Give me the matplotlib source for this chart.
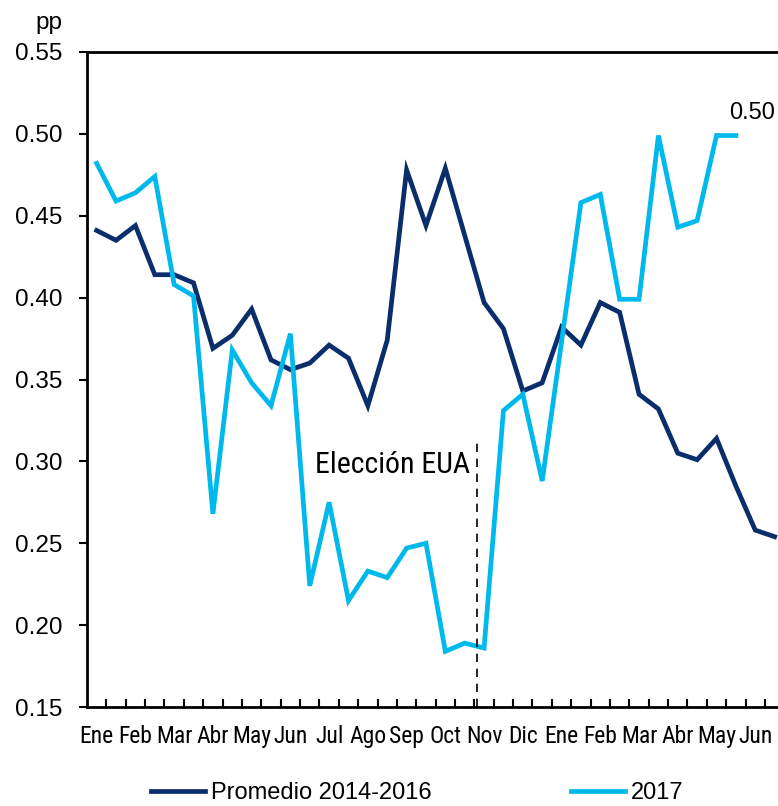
import matplotlib
matplotlib.use("Agg")
import matplotlib.pyplot as plt
import numpy as np

plt.rcParams["font.family"] = ["Liberation Sans", "DejaVu Sans"]
narrow = ["Roboto Condensed", "Liberation Sans"]

# two points per month, Ene 2016 .. Jun 2017 (36 obs)
months = ["Ene", "Feb", "Mar", "Abr", "May", "Jun", "Jul", "Ago", "Sep",
          "Oct", "Nov", "Dic", "Ene", "Feb", "Mar", "Abr", "May", "Jun"]

promedio = [0.441, 0.435, 0.444, 0.414, 0.414, 0.409, 0.369, 0.377, 0.393,
            0.362, 0.356, 0.360, 0.371, 0.363, 0.334, 0.374, 0.478, 0.444,
            0.479, 0.438, 0.397, 0.381, 0.343, 0.348, 0.382, 0.371, 0.397,
            0.391, 0.341, 0.332, 0.305, 0.301, 0.314, 0.285, 0.258, 0.254]

y2017 = [0.482, 0.459, 0.464, 0.474, 0.408, 0.401, 0.268, 0.368, 0.348,
         0.334, 0.378, 0.224, 0.275, 0.215, 0.233, 0.229, 0.247, 0.250,
         0.184, 0.189, 0.186, 0.331, 0.341, 0.288, 0.373, 0.458, 0.463,
         0.399, 0.399, 0.499, 0.443, 0.447, 0.499, 0.499]

dark = "#0a2d6c"
light = "#00b9ec"
W, H = 778, 806

fig = plt.figure(figsize=(W / 100, H / 100), dpi=100)
# right edge of the axes runs past the figure (chart is cropped in the original)
ax = fig.add_axes([87 / W, 1 - 707 / H, 697.3 / W, 655 / H])

x1 = np.arange(len(promedio))
x2 = np.arange(len(y2017))
ax.plot(x1, promedio, color=dark, lw=3.4, solid_joinstyle="miter",
        label="Promedio 2014-2016")
ax.plot(x2, y2017, color=light, lw=3.4, solid_joinstyle="miter", label="2017")

# election marker
ax.plot([19.62, 19.62], [0.15, 0.312], color="black", lw=1.2,
        linestyle=(0, (5, 4)))
ax.text(19.3, 0.2975, "Elección EUA", ha="right", va="center",
        fontsize=21.5, family=narrow)
ax.text(32.64, 0.513, "0.50", ha="left", va="center", fontsize=17)

ax.set_xlim(-0.5, 35.5)
ax.set_ylim(0.15, 0.55)
yt = np.arange(0.15, 0.551, 0.05)
ax.set_yticks(yt)
ax.set_yticklabels([f"{v:.2f}" for v in yt], fontsize=17.5)
ax.tick_params(axis="y", direction="out", length=6, width=1.5, pad=12)

ax.set_xticks(np.arange(0.5, 35, 1))
ax.set_xticklabels([])
ax.tick_params(axis="x", which="major", direction="in", length=6, width=1.5)
ax.set_xticks(np.arange(0, 36, 2), minor=True)
ax.set_xticklabels(months, minor=True, fontsize=17, family=narrow)
ax.tick_params(axis="x", which="minor", length=0, pad=13)

for s in ["left", "bottom", "top"]:
    ax.spines[s].set_linewidth(2)
ax.spines["right"].set_visible(False)

fig.text(62 / W, 1 - 23 / H, "pp", ha="right", va="center", fontsize=17.5)

fig.legend(loc="center", bbox_to_anchor=(417.5 / W, 1 - 793 / H), ncol=2,
           frameon=False, prop={"size": 17},
           handlelength=2.3, handletextpad=0.25, columnspacing=5.9,
           borderpad=0)

fig.savefig("out.png", dpi=100)
